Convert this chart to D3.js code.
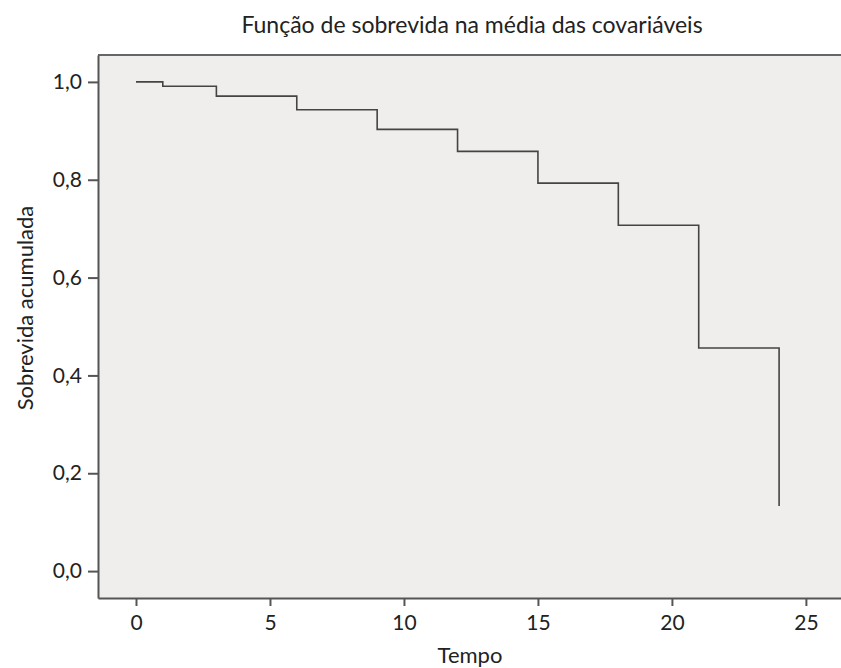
<!DOCTYPE html>
<html lang="pt">
<head>
    <meta charset="UTF-8">
    <title>Função de sobrevida</title>
    <script src="https://d3js.org/d3.v7.min.js"></script>
    <style>
        body { margin: 0; background: #fff; }
        text { font-family: "Lato", "Noto Sans", sans-serif; fill: #222; }
    </style>
</head>
<body>
    <div id="chart"></div>
<script>
    // Survival at the covariate means
    const tempo = [0, 1, 3, 6, 9, 12, 15, 18, 21, 24];
    const sobrevida = [1.0, 0.991, 0.971, 0.943, 0.903, 0.858, 0.793, 0.707, 0.456, 0.133];
    const xTicks = [0, 5, 10, 15, 20, 25];
    const yTicks = [0, 0.2, 0.4, 0.6, 0.8, 1.0];

    const W = 841, H = 668;
    const margin = {top: 55, right: 0, bottom: 70, left: 98};

    const svg = d3.select("#chart")
        .append("svg")
            .attr("width", W)
            .attr("height", H);

    const x = d3.scaleLinear()
        .domain([-1.418, 26.31])
        .range([margin.left, W - margin.right]);
    const y = d3.scaleLinear()
        .domain([-0.055, 1.055])
        .range([H - margin.bottom, margin.top]);

    // plot background
    svg.append("rect")
        .attr("x", margin.left)
        .attr("y", margin.top)
        .attr("width", W - margin.right - margin.left)
        .attr("height", H - margin.bottom - margin.top)
        .attr("fill", "#efeeec");

    // top frame line
    svg.append("line")
        .attr("x1", margin.left).attr("x2", W)
        .attr("y1", margin.top).attr("y2", margin.top)
        .attr("stroke", "#666").attr("stroke-width", 2);

    const fmt = d => d3.format(".1f")(d).replace(".", ",");

    const xAxis = svg.append("g")
        .attr("transform", `translate(0,${H - margin.bottom})`)
        .call(d3.axisBottom(x).tickValues(xTicks).tickSize(8).tickPadding(9).tickSizeOuter(0));
    const yAxis = svg.append("g")
        .attr("transform", `translate(${margin.left},0)`)
        .call(d3.axisLeft(y).tickValues(yTicks).tickFormat(fmt).tickSize(10).tickPadding(6).tickSizeOuter(0));

    [xAxis, yAxis].forEach(a => {
        a.select(".domain").attr("stroke", "#555").attr("stroke-width", 2);
        a.selectAll(".tick line").attr("stroke", "#555").attr("stroke-width", 2);
        a.selectAll(".tick text")
            .attr("fill", "#222")
            .style("font-family", "Lato, 'Noto Sans', sans-serif")
            .style("font-size", "21px");
    });

    // survival step curve
    const pts = tempo.map((t, i) => [t, sobrevida[i]]);
    svg.append("path")
        .datum(pts)
        .attr("fill", "none")
        .attr("stroke", "#444")
        .attr("stroke-width", 1.6)
        .attr("d", d3.line()
            .x(d => x(d[0]))
            .y(d => y(d[1]))
            .curve(d3.curveStepAfter));

    // title and axis labels
    svg.append("text")
        .attr("x", 472)
        .attr("y", 33)
        .attr("text-anchor", "middle")
        .style("font-size", "23px")
        .text("Função de sobrevida na média das covariáveis");

    svg.append("text")
        .attr("x", 470)
        .attr("y", 663)
        .attr("text-anchor", "middle")
        .style("font-size", "22px")
        .text("Tempo");

    svg.append("text")
        .attr("transform", "translate(33,308) rotate(-90)")
        .attr("text-anchor", "middle")
        .style("font-size", "22px")
        .text("Sobrevida acumulada");
</script>
</body>
</html>
